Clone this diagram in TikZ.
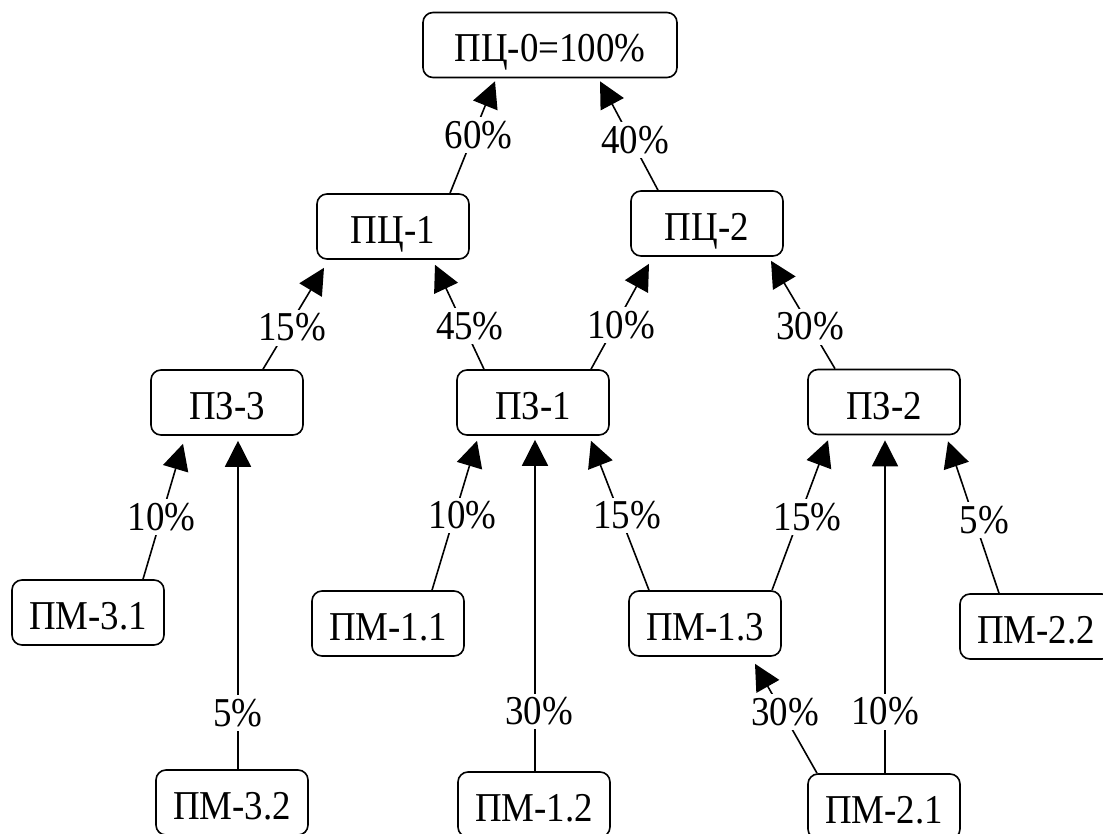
\documentclass[tikz,border=0pt]{standalone}
\usepackage{fontspec}
\setmainfont{Liberation Serif}[FakeStretch=0.9]
\usetikzlibrary{arrows.meta,calc,positioning}

\begin{document}
\begin{tikzpicture}[
    x=0.5pt, y=-0.5pt,
    font=\fontsize{20.5}{24}\selectfont,
    unit/.style={rectangle, rounded corners=5pt, draw=black, line width=0.8pt, minimum width=76pt, minimum height=32.5pt, inner sep=0pt, text height=17pt, text depth=0pt},
    flow/.style={-{Triangle[length=13pt,width=13pt]}, line width=0.8pt},
    pct/.style={fill=white, inner sep=2pt}
]
\useasboundingbox (0,0) rectangle (1103,834);

% Top level: the goal
\node[unit, minimum width=127pt] (pc0) at (550,45) {ПЦ-0=100\%};

% Sub-goals
\node[unit] (pc1) at (393,226.5) {ПЦ-1};
\node[unit] (pc2) at (707,223.5) {ПЦ-2};

% Tasks
\node[unit] (pz3) at (227,402.5) {ПЗ-3};
\node[unit] (pz1) at (533,402.5) {ПЗ-1};
\node[unit] (pz2) at (884,402) {ПЗ-2};

% Measures
\node[unit] (pm31) at (88,612.5) {ПМ-3.1};
\node[unit] (pm32) at (232,802.5) {ПМ-3.2};
\node[unit] (pm11) at (388,623.5) {ПМ-1.1};
\node[unit] (pm12) at (534,804.5) {ПМ-1.2};
\node[unit] (pm13) at (705,623.5) {ПМ-1.3};
\node[unit] (pm22) at (1036,626.5) {ПМ-2.2};
\node[unit] (pm21) at (884,806.5) {ПМ-2.1};

% Contributions to the goal
\draw[flow] ($(pc1.north)+(57,0)$) -- node[pct, pos=0.52, xshift=2.5pt] {60\%} ($(pc0.south)+(-55,3)$);
\draw[flow] ($(pc2.north)+(-49,0)$) -- node[pct, pos=0.46, xshift=2pt] {40\%} ($(pc0.south)+(50,3)$);

% Contributions to the sub-goals
\draw[flow] ($(pz3.north)+(36,0)$) -- node[pct, pos=0.41, xshift=2pt] {15\%} ($(pc1.south)+(-69,8)$);
\draw[flow] ($(pz1.north)+(-49,0)$) -- node[pct, pos=0.41, xshift=3pt] {45\%} ($(pc1.south)+(42,5)$);
\draw[flow] ($(pz1.north)+(58,0)$) -- node[pct, pos=0.42, xshift=3pt] {10\%} ($(pc2.south)+(-58,7)$);
\draw[flow] ($(pz2.north)+(-49,0)$) -- node[pct, pos=0.39] {30\%} ($(pc2.south)+(64,4)$);

% Contributions to the tasks
\draw[flow] ($(pm31.north)+(55,0)$) -- node[pct, pos=0.46] {10\%} ($(pz3.south)+(-44,8)$);
\draw[flow] ($(pm32.north)+(6,0)$) -- node[pct, pos=0.17] {5\%} ($(pz3.south)+(11,5)$);
\draw[flow] ($(pm11.north)+(44,0)$) -- node[pct, pos=0.50, xshift=4pt] {10\%} ($(pz1.south)+(-56,5)$);
\draw[flow] ($(pm12.north)+(1,0)$) -- node[pct, pos=0.18, xshift=2pt] {30\%} ($(pz1.south)+(2,4)$);
\draw[flow] ($(pm13.north)+(-56,0)$) -- node[pct, pos=0.50, xshift=3.5pt] {15\%} ($(pz1.south)+(58,5)$);
\draw[flow] ($(pm13.north)+(67,0)$) -- node[pct, pos=0.49, xshift=4pt] {15\%} ($(pz2.south)+(-56,5)$);
\draw[flow] ($(pm21.north)+(1,0)$) -- node[pct, pos=0.185] {10\%} ($(pz2.south)+(1,5)$);
\draw[flow] ($(pm22.north)+(-37,0)$) -- node[pct, pos=0.48, xshift=5pt] {5\%} ($(pz2.south)+(64,6)$);

% Measure feeding another measure
\draw[flow] ($(pm21.north)+(-67,0)$) -- node[pct, pos=0.56, xshift=1.5pt] {30\%} ($(pm13.south)+(50,7)$);

\end{tikzpicture}
\end{document}
